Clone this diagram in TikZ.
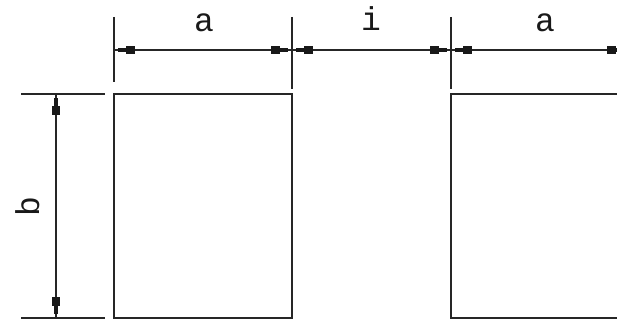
\documentclass[tikz,border=0pt]{standalone}
\usepackage{fontspec}
\setmainfont{Liberation Mono}
\usetikzlibrary{decorations.markings}
\tikzset{
  ln/.style={line width=1.2pt, draw=black!85},
  dimtips/.style={ln, postaction={decorate}, decoration={markings,
    mark=at position 4pt with {\fill[black!90] (0pt,-2pt) rectangle (9pt,2pt); \fill[black!90] (8pt,-4.2pt) rectangle (17pt,4.2pt);},
    mark=at position -4pt with {\fill[black!90] (0pt,-2pt) rectangle (-9pt,2pt); \fill[black!90] (-8pt,-4.2pt) rectangle (-17pt,4.2pt);}}},
  lbl/.style={font=\fontsize{33}{33}\selectfont, inner sep=0pt, text=black!90}
}
\begin{document}
\begin{tikzpicture}[x=1pt,y=-1pt]
\useasboundingbox (0,0) rectangle (617,320);
% boxes
\draw[ln] (114,94) rectangle (292,318);
\draw[ln] (451,94) rectangle (628,318);
% top extension lines
\coordinate (e1t) at (114,17); \coordinate (e1b) at (114,82);
\coordinate (e2t) at (292,17); \coordinate (e2b) at (292,89);
\coordinate (e3t) at (451,17); \coordinate (e3b) at (451,89);
\draw[ln] (e1t) -- (e1b);
\draw[ln] (e2t) -- (e2b);
\draw[ln] (e3t) -- (e3b);
% dimension line points
\coordinate (d1) at (114,50); \coordinate (d2) at (292,50);
\coordinate (d3) at (451,50); \coordinate (d4) at (628,50);
\draw[dimtips] (d1) -- (d2);
\draw[dimtips] (d2) -- (d3);
\draw[dimtips] (d3) -- (d4);
\node[lbl, anchor=base] (la1) at (204,32) {a};
\node[lbl, anchor=base] (li) at (371,31) {i};
\node[lbl, anchor=base] (la2) at (545,32) {a};
% left dimension
\coordinate (h1l) at (21,94); \coordinate (h1r) at (105,94);
\coordinate (h2l) at (21,318); \coordinate (h2r) at (105,318);
\draw[ln] (h1l) -- (h1r);
\draw[ln] (h2l) -- (h2r);
\coordinate (v1) at (56,94); \coordinate (v2) at (56,318);
\draw[dimtips] (v1) -- (v2);
\node[lbl, anchor=base, rotate=90] (lb) at (39,207) {b};
\end{tikzpicture}
\end{document}
